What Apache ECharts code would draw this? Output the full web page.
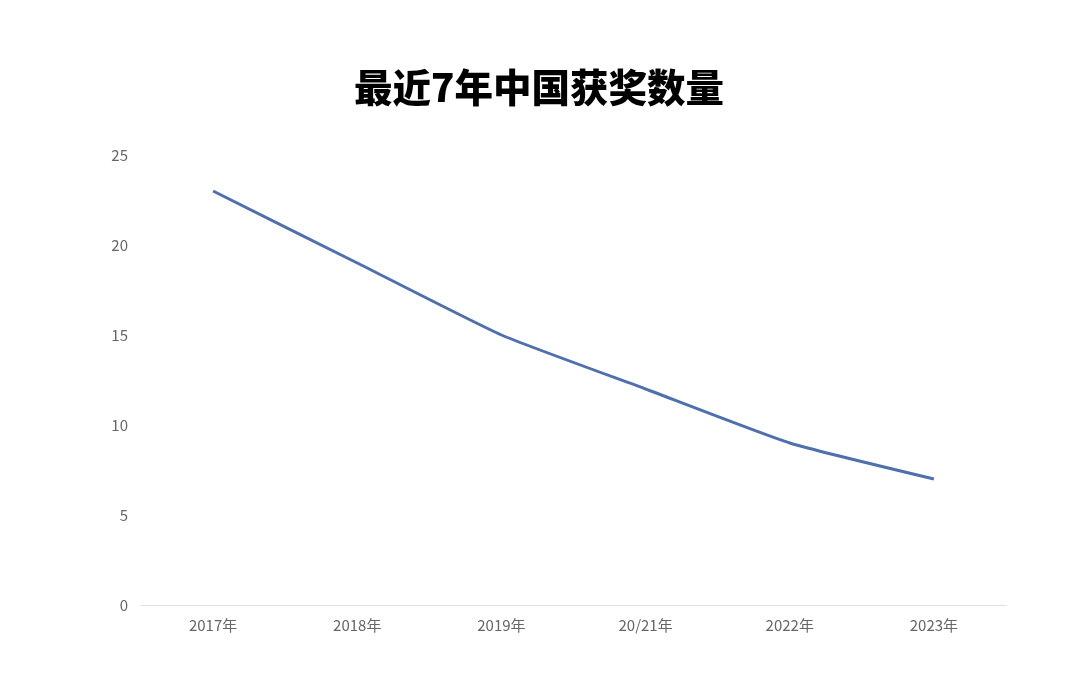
<!DOCTYPE html>
<html>
<head>
<meta charset="utf-8">
<script src="https://cdn.jsdelivr.net/npm/echarts@6/dist/echarts.min.js"></script>
<style>
  html, body { margin: 0; padding: 0; background: #fff; }
  #main { width: 1080px; height: 674px; }
</style>
</head>
<body>
<div id="main"></div>
<script>
// 数据
var years = ['2017年', '2018年', '2019年', '20/21年', '2022年', '2023年'];
var awards = [23, 19, 15, 12, 9, 7];
var yTicks = [0, 5, 10, 15, 20, 25];

var chart = echarts.init(document.getElementById('main'));
chart.setOption({
    animation: false,
    title: {
        text: '最近7年中国获奖数量',
        left: 349,
        top: 63,
        textStyle: {
            fontFamily: 'Noto Sans CJK SC',
            fontSize: 38.5,
            fontWeight: 900,
            color: '#000'
        }
    },
    grid: { left: 141, right: 74, top: 155, bottom: 69 },
    xAxis: {
        type: 'category',
        data: years,
        boundaryGap: true,
        axisLine: { lineStyle: { color: '#e0e0e0', width: 1 } },
        axisTick: { show: false },
        axisLabel: {
            color: '#666',
            fontSize: 15,
            margin: 13,
            fontFamily: 'Noto Sans CJK SC'
        }
    },
    yAxis: {
        type: 'value',
        min: yTicks[0],
        max: yTicks[yTicks.length - 1],
        interval: 5,
        splitLine: { show: false },
        axisLine: { show: false },
        axisTick: { show: false },
        axisLabel: {
            color: '#666',
            fontSize: 15,
            margin: 13,
            fontFamily: 'Noto Sans CJK SC'
        }
    },
    series: [{
        type: 'line',
        data: awards,
        smooth: 0.15,
        showSymbol: false,
        lineStyle: { color: '#4f6fad', width: 3 }
    }]
});
</script>
</body>
</html>
